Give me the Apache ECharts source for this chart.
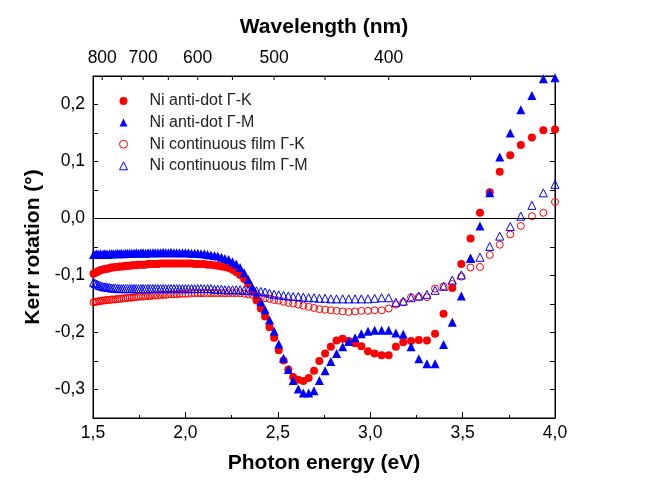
<!DOCTYPE html>
<html>
<head>
<meta charset="utf-8">
<script src="https://cdn.jsdelivr.net/npm/echarts@6/dist/echarts.min.js"></script>
<style>html,body{margin:0;padding:0;background:#fff}#c{width:649px;height:495px}</style>
</head>
<body>
<div id="c"></div>
<script>
// Photon energies (eV) of the measured points
const energy = [
 1.503,1.512,1.521,1.531,1.540,1.550,1.560,1.570,1.580,1.590,
 1.600,1.610,1.621,1.632,1.642,1.653,1.664,1.676,1.687,1.699,
 1.710,1.722,1.734,1.746,1.759,1.771,1.784,1.797,1.810,1.824,
 1.837,1.851,1.865,1.879,1.893,1.908,1.922,1.938,1.953,1.968,
 1.984,2.000,2.016,2.033,2.050,2.067,2.084,2.102,2.120,2.138,
 2.157,2.175,2.195,2.214,2.234,2.255,2.275,2.296,2.318,2.340,
 2.362,2.385,2.408,2.431,2.455,2.480,2.505,2.531,2.557,2.583,
 2.611,2.638,2.667,2.696,2.725,2.756,2.787,2.818,2.851,2.884,
 2.918,2.952,2.988,3.024,3.062,3.100,3.139,3.179,3.221,3.263,
 3.307,3.351,3.397,3.444,3.493,3.543,3.594,3.647,3.701,3.758,
 3.815,3.875,3.937,4.000];

const antiDotGK = [
 -0.097,-0.095,-0.094,-0.092,-0.091,-0.090,-0.089,-0.088,-0.088,-0.087,
 -0.086,-0.086,-0.085,-0.085,-0.084,-0.084,-0.084,-0.083,-0.083,-0.083,
 -0.082,-0.082,-0.082,-0.081,-0.081,-0.081,-0.081,-0.080,-0.080,-0.080,
 -0.080,-0.080,-0.079,-0.079,-0.079,-0.079,-0.079,-0.079,-0.079,-0.079,
 -0.079,-0.079,-0.079,-0.079,-0.080,-0.080,-0.080,-0.080,-0.081,-0.081,
 -0.082,-0.083,-0.084,-0.085,-0.087,-0.090,-0.094,-0.099,-0.106,-0.115,
 -0.127,-0.144,-0.158,-0.172,-0.191,-0.209,-0.231,-0.249,-0.265,-0.278,
 -0.283,-0.285,-0.280,-0.267,-0.250,-0.237,-0.225,-0.214,-0.211,-0.215,
 -0.219,-0.224,-0.233,-0.237,-0.240,-0.240,-0.225,-0.217,-0.215,-0.213,
 -0.214,-0.202,-0.167,-0.122,-0.080,-0.035,0.010,0.046,0.082,0.111,
 0.129,0.142,0.155,0.156];

const antiDotGM = [
 -0.063,-0.063,-0.062,-0.063,-0.062,-0.063,-0.062,-0.062,-0.063,-0.062,
 -0.062,-0.062,-0.062,-0.061,-0.062,-0.061,-0.062,-0.061,-0.061,-0.061,
 -0.061,-0.061,-0.060,-0.061,-0.060,-0.060,-0.061,-0.060,-0.060,-0.060,
 -0.060,-0.060,-0.060,-0.059,-0.060,-0.060,-0.059,-0.060,-0.060,-0.060,
 -0.060,-0.060,-0.060,-0.061,-0.061,-0.061,-0.062,-0.062,-0.063,-0.064,
 -0.065,-0.066,-0.068,-0.070,-0.072,-0.076,-0.080,-0.086,-0.095,-0.107,
 -0.120,-0.133,-0.146,-0.160,-0.178,-0.198,-0.220,-0.245,-0.265,-0.284,
 -0.299,-0.306,-0.306,-0.302,-0.284,-0.267,-0.251,-0.237,-0.225,-0.216,
 -0.209,-0.202,-0.198,-0.196,-0.196,-0.196,-0.201,-0.203,-0.225,-0.246,
 -0.255,-0.255,-0.221,-0.182,-0.136,-0.070,-0.013,0.045,0.108,0.150,
 0.191,0.216,0.245,0.247];

const filmGK = [
 -0.147,-0.146,-0.146,-0.145,-0.145,-0.144,-0.144,-0.143,-0.143,-0.143,
 -0.142,-0.142,-0.142,-0.141,-0.141,-0.141,-0.140,-0.140,-0.139,-0.139,
 -0.139,-0.138,-0.138,-0.137,-0.137,-0.137,-0.136,-0.136,-0.136,-0.135,
 -0.135,-0.135,-0.134,-0.134,-0.134,-0.133,-0.133,-0.133,-0.133,-0.132,
 -0.132,-0.132,-0.132,-0.131,-0.131,-0.131,-0.131,-0.131,-0.131,-0.131,
 -0.131,-0.131,-0.131,-0.131,-0.131,-0.131,-0.131,-0.131,-0.132,-0.133,
 -0.134,-0.136,-0.138,-0.140,-0.141,-0.143,-0.144,-0.146,-0.148,-0.149,
 -0.151,-0.153,-0.155,-0.157,-0.159,-0.160,-0.161,-0.162,-0.163,-0.164,
 -0.163,-0.162,-0.162,-0.161,-0.161,-0.158,-0.151,-0.147,-0.138,-0.138,
 -0.138,-0.123,-0.119,-0.115,-0.102,-0.086,-0.085,-0.064,-0.046,-0.028,
 -0.013,0.004,0.010,0.029];

const filmGM = [
 -0.112,-0.114,-0.115,-0.117,-0.118,-0.119,-0.120,-0.120,-0.121,-0.121,
 -0.122,-0.122,-0.122,-0.123,-0.123,-0.123,-0.123,-0.123,-0.123,-0.123,
 -0.123,-0.123,-0.123,-0.123,-0.123,-0.123,-0.123,-0.123,-0.123,-0.123,
 -0.123,-0.123,-0.123,-0.123,-0.123,-0.123,-0.123,-0.123,-0.123,-0.123,
 -0.123,-0.123,-0.123,-0.123,-0.123,-0.123,-0.123,-0.123,-0.123,-0.123,
 -0.124,-0.124,-0.124,-0.125,-0.125,-0.125,-0.125,-0.125,-0.126,-0.126,
 -0.127,-0.127,-0.128,-0.129,-0.131,-0.133,-0.134,-0.135,-0.136,-0.137,
 -0.137,-0.138,-0.139,-0.139,-0.140,-0.140,-0.141,-0.141,-0.141,-0.141,
 -0.141,-0.141,-0.141,-0.140,-0.139,-0.139,-0.147,-0.145,-0.139,-0.136,
 -0.133,-0.126,-0.119,-0.108,-0.099,-0.070,-0.068,-0.049,-0.031,-0.014,
 0.004,0.023,0.045,0.060];

const seriesNames = ['Ni anti-dot \u0393-K','Ni anti-dot \u0393-M','Ni continuous film \u0393-K','Ni continuous film \u0393-M'];
const energyTicks = [1.5,2.0,2.5,3.0,3.5,4.0];
const kerrTicks = [-0.3,-0.2,-0.1,0.0,0.1,0.2];
const wavelengthTicks = [800,750,700,650,600,550,500,450,400,350];
const wavelengthLabels = [800,700,600,500,400];

const RED = '#ff0000', BLUE = '#0000ff';
const Y_MIN = -0.35, Y_MAX = 0.25;
const pairs = arr => energy.map((e,i)=>[e,arr[i]]);
const comma = v => (Math.abs(v)<1e-9?0:v).toFixed(1).replace('.',',');
const FONT = 'Liberation Sans, Arial, sans-serif';
const TICKFONT = 17.5, TITLEFONT = 21;

const chart = echarts.init(document.getElementById('c'), null, {renderer:'canvas'});
chart.setOption({
  animation:false,
  backgroundColor:'#fff',
  grid:{left:93,right:94,top:76,bottom:77,containLabel:false,show:true,borderColor:'#000',borderWidth:1,backgroundColor:'transparent'},
  legend:{
    orient:'vertical', left:114, top:88, itemWidth:8, itemHeight:8, itemGap:5.6,
    textStyle:{fontFamily:FONT,fontSize:16,color:'#222',lineHeight:15,padding:[0,0,0,17]},
    data:[
      {name:seriesNames[0],icon:'circle',itemStyle:{color:RED,opacity:1}},
      {name:seriesNames[1],icon:'triangle',itemStyle:{color:BLUE,opacity:1}},
      {name:seriesNames[2],icon:'circle',itemStyle:{color:'#fff',borderColor:RED,borderWidth:1,opacity:1}},
      {name:seriesNames[3],icon:'triangle',itemStyle:{color:'#fff',borderColor:BLUE,borderWidth:1,opacity:1}}
    ]
  },
  xAxis:[{
    type:'value', position:'bottom', min:1.5, max:4.0, interval:0.5,
    axisLine:{onZero:false,lineStyle:{color:'#000',width:1}},
    axisTick:{inside:true,length:6,lineStyle:{color:'#000'}},
    minorTick:{show:true,splitNumber:2,length:3,lineStyle:{color:'#000'}},
    splitLine:{show:false},
    axisLabel:{customValues:energyTicks,formatter:comma,color:'#000',fontFamily:FONT,fontSize:TICKFONT,margin:6},
    name:'Photon energy (eV)', nameLocation:'middle', nameGap:35,
    nameTextStyle:{fontFamily:FONT,fontSize:TITLEFONT,fontWeight:'bold',color:'#000'}
  },{
    type:'value', position:'top', min:1.5, max:4.0,
    axisLine:{show:true,onZero:false,lineStyle:{color:'#000',width:1}},
    axisTick:{show:false},
    splitLine:{show:false},
    axisLabel:{customValues:wavelengthLabels.map(w=>1240/w),formatter:v=>String(Math.round(1240/v)),color:'#000',fontFamily:FONT,fontSize:TICKFONT,margin:9},
    name:'Wavelength (nm)', nameLocation:'middle', nameGap:38,
    nameTextStyle:{fontFamily:FONT,fontSize:TITLEFONT,fontWeight:'bold',color:'#000'}
  }],
  yAxis:[{
    type:'value', position:'left', min:Y_MIN, max:Y_MAX, interval:0.05,
    axisLine:{show:true,onZero:false,lineStyle:{color:'#000',width:1}},
    axisTick:{show:true,inside:true,length:5,lineStyle:{color:'#000'}},
    splitLine:{show:false},
    axisLabel:{customValues:kerrTicks,formatter:comma,color:'#000',fontFamily:FONT,fontSize:TICKFONT,margin:8},
    name:'Kerr rotation (\u00b0)', nameLocation:'middle', nameGap:46,
    nameTextStyle:{fontFamily:FONT,fontSize:TITLEFONT,fontWeight:'bold',color:'#000'}
  },{
    type:'value', position:'right', min:Y_MIN, max:Y_MAX, interval:0.05,
    axisLine:{show:true,onZero:false,lineStyle:{color:'#000',width:1}},
    axisTick:{show:true,inside:true,length:5,lineStyle:{color:'#000'}},
    splitLine:{show:false},
    axisLabel:{show:false}
  }],
  series:[
    {name:seriesNames[0],type:'scatter',data:pairs(antiDotGK),symbol:'circle',symbolSize:8,
     itemStyle:{color:RED,opacity:1},
     markLine:{silent:true,symbol:'none',label:{show:false},lineStyle:{color:'#000',width:1,type:'solid'},data:[{yAxis:0}]}},
    {name:seriesNames[1],type:'scatter',data:pairs(antiDotGM),symbol:'triangle',symbolSize:9,
     itemStyle:{color:BLUE,opacity:1}},
    {name:seriesNames[2],type:'scatter',data:pairs(filmGK),symbol:'circle',symbolSize:7,
     itemStyle:{color:'rgba(0,0,0,0)',borderColor:RED,borderWidth:1,opacity:1}},
    {name:seriesNames[3],type:'scatter',data:pairs(filmGM),symbol:'triangle',symbolSize:8,
     itemStyle:{color:'rgba(0,0,0,0)',borderColor:BLUE,borderWidth:1,opacity:1}},
    {name:'wavelength ticks',type:'custom',silent:true,xAxisIndex:0,yAxisIndex:0,
     data:wavelengthTicks.map(w=>[1240/w]),
     renderItem:(params,api)=>{
       const p = api.coord([api.value(0), Y_MAX]);
       return {type:'line',shape:{x1:p[0],y1:p[1],x2:p[0],y2:p[1]+4},style:{stroke:'#000',lineWidth:1}};
     }}
  ]
});
</script>
</body>
</html>
